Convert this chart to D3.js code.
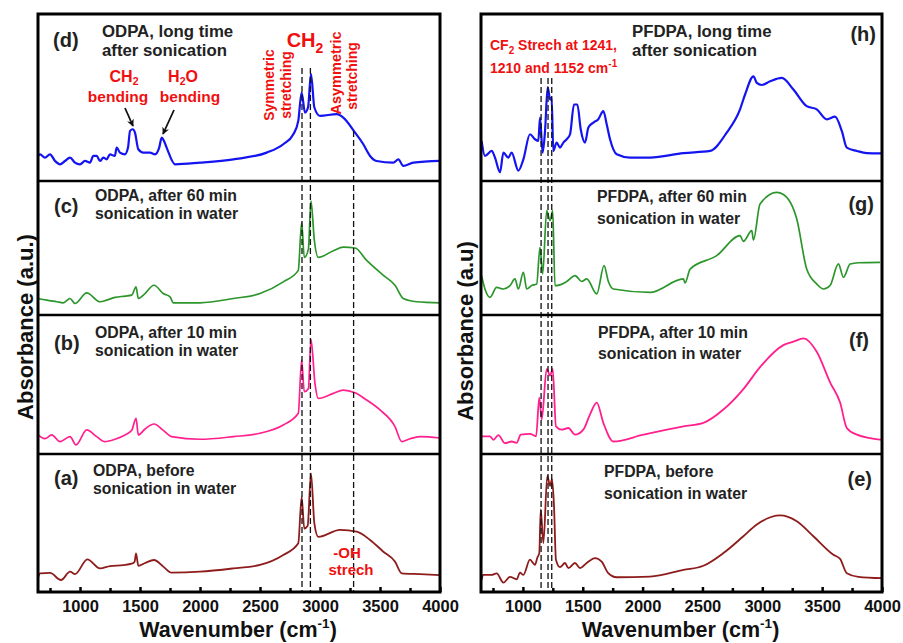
<!DOCTYPE html>
<html>
<head>
<meta charset="utf-8">
<script src="https://cdn.jsdelivr.net/npm/d3@7"></script>
<style>
  body { margin: 0; background: #fff; }
  svg { font-family: "Liberation Sans", Arial, sans-serif; }
  .lbl { font-weight: bold; fill: #222; }
  .red { font-weight: bold; fill: #f01010; }
</style>
</head>
<body>
<svg id="chart" width="903" height="643"></svg>
<script>
// FTIR spectra, values are absorbance in arbitrary units (0-100 per sub-plot)
const majorTicks = [1000, 1500, 2000, 2500, 3000, 3500, 4000];
const minorTicks = [750, 1250, 1750, 2250, 2750, 3250, 3750];

const odpaA = [[650,10],[667,13.5],[750,13.8],[842,8.7],[917,14.7],[960,13],[1061,23.7],[1167,17.1],[1250,18.8],[1360,19.5],[1431,20.5],[1455,22],[1467,28],[1486,19],[1542,21],[1617,23.2],[1694,18.4],[1764,14],[2000,14.7],[2278,17.1],[2500,19.6],[2694,26.8],[2819,35.3],[2847,69],[2869,46],[2897,48],[2925,86],[2953,49.8],[2986,40],[3167,45],[3306,43.7],[3417,37.7],[3528,29.2],[3625,22],[3681,13.5],[3833,13],[4000,12.3]];
const odpaB = [[650,13.7],[708,11],[764,13.7],[833,8.9],[917,12.5],[967,6.5],[1056,17.3],[1139,12.5],[1208,8.9],[1292,10.6],[1375,13.7],[1431,17],[1467,25.7],[1486,13.7],[1542,18],[1617,21.6],[1694,17],[1764,12.5],[2000,10.6],[2278,12.5],[2500,14.9],[2694,20.9],[2819,29.3],[2847,67.6],[2869,44.8],[2903,47],[2925,82.5],[2958,50.8],[2986,40],[3111,43.6],[3194,46],[3292,44],[3389,38.8],[3500,31.7],[3625,19.7],[3681,8.9],[3750,11],[3833,12.5],[4000,11.5]];
const odpaC = [[650,12.3],[722,11.1],[806,9.9],[861,9.1],[917,12.3],[958,8.6],[1056,16.5],[1167,9.9],[1222,11.1],[1292,13.1],[1375,14.1],[1431,14.8],[1467,21],[1486,12.3],[1528,14.8],[1617,22.2],[1694,16],[1750,13.6],[1778,9.1],[2000,9.1],[2278,12.3],[2500,16],[2694,24.7],[2819,33.3],[2847,69],[2869,43],[2903,49],[2925,85],[2953,55.6],[2986,43],[3111,48],[3194,50.6],[3292,50],[3389,40.7],[3528,29.6],[3625,22.2],[3694,12.3],[3806,9.9],[4000,9.1]];
const odpaD = [[650,15],[667,16],[708,14],[750,16],[792,12],[833,10],[875,12],[917,14],[958,11],[1000,10],[1042,12],[1083,11],[1111,15],[1139,15],[1167,12],[1194,14],[1222,13],[1250,16],[1290,15],[1306,20],[1333,17],[1375,16],[1400,20],[1417,30],[1440,31],[1458,29],[1486,19],[1528,17],[1583,17],[1625,16],[1660,20],[1681,26],[1700,24],[1722,20],[1792,10],[2000,11],[2278,13],[2556,17],[2694,22],[2778,28],[2819,36],[2847,53],[2875,41],[2900,44],[2925,64],[2953,44],[3000,39],[3139,40],[3194,38],[3292,29],[3361,22],[3417,15],[3472,12],[3611,11],[3653,13],[3694,9],[3778,11],[4000,12]];

const pfdpaE = [[655,8.8],[667,12.4],[739,12.4],[781,13.5],[837,6.8],[892,11],[948,9.2],[976,14],[1004,12.4],[1059,23.4],[1101,19.7],[1121,25],[1137,28.2],[1149,59.9],[1171,35.5],[1204,84.2],[1227,76.9],[1243,81.8],[1260,62.3],[1276,23.4],[1310,18],[1352,21],[1380,17.3],[1435,21],[1477,17.3],[1533,21],[1603,24.6],[1658,22],[1714,13.6],[1784,10.7],[2062,11.2],[2341,16],[2508,19],[2675,28.2],[2842,40.4],[2954,48.9],[3149,55.5],[3288,51.3],[3427,40.4],[3594,27],[3650,24],[3706,13.6],[3803,11],[4000,10]];
const pfdpaF = [[655,12.7],[725,12.7],[753,10.2],[795,13.6],[850,7.8],[906,9],[948,8],[982,13.9],[1059,14.5],[1110,12.7],[1137,40.6],[1157,24.8],[1199,61.3],[1227,56.4],[1249,61.3],[1276,19.9],[1324,17.5],[1380,18.7],[1435,13.9],[1505,17.5],[1561,28.5],[1617,37],[1672,22.4],[1756,9],[2006,13.9],[2341,19.9],[2508,22.4],[2675,32],[2842,46.7],[2981,62.5],[3176,78.3],[3260,80.8],[3344,83.2],[3455,73.5],[3566,51.6],[3650,37],[3706,18.7],[3790,13.9],[4000,10.2]];
const pfdpaG = [[655,29.4],[683,19.4],[725,13.2],[781,20.6],[837,19.4],[892,21.9],[934,26.9],[962,19.4],[1004,31.9],[1032,19.4],[1073,22],[1115,23.1],[1143,50.5],[1165,30.6],[1199,77.9],[1227,70.4],[1249,77.9],[1268,21.9],[1310,22.5],[1366,25],[1436,29.4],[1491,25],[1533,26.9],[1617,15.7],[1678,36.8],[1714,25],[1756,19.4],[2062,16.9],[2341,26.9],[2355,24],[2397,34.3],[2619,44.3],[2814,59.2],[2842,55],[2912,62.9],[2926,56],[2981,82.8],[3121,91.5],[3176,90],[3288,71.6],[3371,34.3],[3455,23.1],[3511,19.4],[3566,22],[3636,38.1],[3678,28.1],[3734,38.1],[3803,39],[3984,39.3]];
const pfdpaH = [[655,24],[683,15],[739,18],[767,14],[809,5.2],[837,17],[878,14],[906,17],[962,6.2],[1004,13],[1059,28],[1101,25],[1129,24],[1143,37.9],[1165,17],[1185,30],[1207,56.3],[1227,48.8],[1240,50],[1254,18],[1282,23],[1310,20],[1338,23],[1366,25],[1394,28],[1427,45.8],[1455,45.8],[1483,31],[1519,23],[1547,32],[1589,35],[1630,37],[1672,41.9],[1700,34],[1728,25],[1784,16],[1895,14],[2062,14],[2341,16.7],[2564,18],[2703,29],[2814,42.9],[2856,51.8],[2926,62.7],[2954,58.7],[2995,57.5],[3065,59.7],[3163,61.7],[3260,54.8],[3371,44.8],[3455,42.9],[3539,36.9],[3608,38.5],[3664,30],[3706,20],[3790,18],[3873,16.7],[3998,16.5]];

const odpaMarks = [2850, 2920, 3280];
const pfdpaMarks = [1152, 1210, 1241];

const colors = { blue: "#1414f0", green: "#2c962c", pink: "#ff208e", dark: "#8e1c1c" };

const svg = d3.select("#chart");

// sub-plot bands (top, bottom) from top to bottom
const bands = [[14, 181], [181, 315], [315, 454], [454, 592]];

function drawPanel(x0, x1, series, marks, markTop) {
  const x = d3.scaleLinear().domain([650, 4000]).range([x0, x1]);
  const g = svg.append("g");

  series.forEach((s, i) => {
    const y = d3.scaleLinear().domain([0, 100]).range([bands[i][1], bands[i][0]]);
    const line = d3.line().curve(d3.curveMonotoneX).x(d => x(d[0])).y(d => y(d[1]));
    g.append("path")
      .datum(s.data)
      .attr("fill", "none")
      .attr("stroke", s.color)
      .attr("stroke-width", s.width)
      .attr("stroke-linejoin", "round")
      .attr("d", line);
  });

  // dashed reference lines
  marks.forEach((m, i) => {
    g.append("line")
      .attr("x1", x(m)).attr("x2", x(m))
      .attr("y1", markTop[i]).attr("y2", 592)
      .attr("stroke", "#111")
      .attr("stroke-width", 1.3)
      .attr("stroke-dasharray", "6,3");
  });

  // dividers
  bands.slice(1).forEach(b => {
    g.append("line")
      .attr("x1", x0).attr("x2", x1)
      .attr("y1", b[0]).attr("y2", b[0])
      .attr("stroke", "#000").attr("stroke-width", 2.5);
  });

  g.append("rect")
    .attr("x", x0).attr("y", 14)
    .attr("width", x1 - x0).attr("height", 592 - 14)
    .attr("fill", "none").attr("stroke", "#000").attr("stroke-width", 3);

  const ax = g.append("g").attr("transform", "translate(0,592)")
    .call(d3.axisBottom(x).tickValues(majorTicks).tickSize(-5).tickPadding(8).tickFormat(d3.format("d")));
  ax.select(".domain").remove();
  ax.selectAll("line").attr("stroke", "#000").attr("stroke-width", 2.5);
  ax.selectAll("text")
    .attr("font-family", "'Liberation Sans', Arial, sans-serif")
    .attr("font-size", 16.5).attr("font-weight", "bold").attr("fill", "#111");

  const mx = g.append("g").attr("transform", "translate(0,592)")
    .call(d3.axisBottom(x).tickValues(minorTicks).tickSize(-4).tickFormat(""));
  mx.select(".domain").remove();
  mx.selectAll("line").attr("stroke", "#000").attr("stroke-width", 2.5);

  g.append("text")
    .attr("x", (x0 + x1) / 2 - 1).attr("y", 637)
    .attr("text-anchor", "middle")
    .attr("font-size", 21.5).attr("font-weight", "bold").attr("fill", "#111")
    .html('Wavenumber (cm<tspan dy="-9" font-size="13.5">-1</tspan><tspan dy="9">)</tspan>');
  return x;
}

drawPanel(38, 440, [
  { data: odpaD, color: colors.blue, width: 2.2 },
  { data: odpaC, color: colors.green, width: 1.7 },
  { data: odpaB, color: colors.pink, width: 1.7 },
  { data: odpaA, color: colors.dark, width: 1.8 }
], odpaMarks, [68, 68, 131]);

drawPanel(481, 882, [
  { data: pfdpaH, color: colors.blue, width: 2.2 },
  { data: pfdpaG, color: colors.green, width: 1.7 },
  { data: pfdpaF, color: colors.pink, width: 1.8 },
  { data: pfdpaE, color: colors.dark, width: 1.8 }
], pfdpaMarks, [78, 78, 78]);

// y titles
function yTitle(xp, yp, txt) {
  svg.append("text")
    .attr("transform", `translate(${xp},${yp}) rotate(-90)`)
    .attr("text-anchor", "middle")
    .attr("font-size", 22).attr("font-weight", "bold").attr("fill", "#111")
    .text(txt);
}
yTitle(33, 327, "Absorbance (a.u.)");
yTitle(473, 331, "Absorbance (a.u)");

function label(xp, yp, txt, size, anchor) {
  svg.append("text").attr("class", "lbl")
    .attr("x", xp).attr("y", yp)
    .attr("font-size", size)
    .attr("text-anchor", anchor || "start")
    .text(txt);
}

// left panel labels
label(53, 47, "(d)", 20);
label(102, 37, "ODPA, long time", 16.8);
label(102, 56, "after sonication", 16.8);
label(54, 213, "(c)", 20);
label(95, 201, "ODPA, after 60 min", 15.8);
label(95, 219, "sonication in water", 15.8);
label(54, 350, "(b)", 20);
label(95, 338, "ODPA, after 10 min", 15.8);
label(95, 356, "sonication in water", 15.8);
label(54, 485, "(a)", 20);
label(93, 476, "ODPA, before", 15.8);
label(93, 494, "sonication in water", 15.8);

// right panel labels
label(876, 41, "(h)", 20, "end");
label(632, 37, "PFDPA, long time", 16.8);
label(632, 56, "after sonication", 16.8);
label(874, 211, "(g)", 20, "end");
label(597, 202, "PFDPA, after 60 min", 15.8);
label(597, 224, "sonication in water", 15.8);
label(869, 347, "(f)", 20, "end");
label(598, 338, "PFDPA, after 10 min", 15.8);
label(598, 359, "sonication in water", 15.8);
label(872, 486, "(e)", 20, "end");
label(604, 477, "PFDPA, before", 15.8);
label(604, 499, "sonication in water", 15.8);

// red annotations
function red(xp, yp, html, size, anchor) {
  svg.append("text").attr("class", "red")
    .attr("x", xp).attr("y", yp)
    .attr("font-size", size)
    .attr("text-anchor", anchor || "middle")
    .html(html);
}
red(124, 82, 'CH<tspan dy="3" font-size="10.5">2</tspan>', 16);
red(118, 102, "bending", 15.5);
red(183, 82, 'H<tspan dy="3" font-size="10.5">2</tspan><tspan dy="-3">O</tspan>', 16);
red(190, 102, "bending", 15.5);
red(305, 47, 'CH<tspan dy="6" font-size="14">2</tspan>', 20);
red(347, 558, "-OH", 15);
red(351, 575, "strech", 15);
red(490, 50, 'CF<tspan dy="4" font-size="10">2</tspan><tspan dy="-4"> Strech at 1241,</tspan>', 14, "start");
red(490, 73, '1210 and 1152 cm<tspan dy="-6" font-size="10">-1</tspan>', 14, "start");

function redV(xp, yp, txt, size) {
  svg.append("text").attr("class", "red")
    .attr("transform", `translate(${xp},${yp}) rotate(-90)`)
    .attr("text-anchor", "middle")
    .attr("font-size", size)
    .text(txt);
}
redV(274, 85, "Symmetric", 14);
redV(291, 85, "stretching", 14);
redV(341, 73, "Asymmetric", 14.5);
redV(357, 76, "stretching", 14);

// arrows
svg.append("defs").append("marker")
  .attr("id", "ah").attr("viewBox", "0 0 10 10")
  .attr("refX", 9).attr("refY", 5)
  .attr("markerWidth", 4).attr("markerHeight", 4)
  .attr("orient", "auto")
  .append("path").attr("d", "M0,0 L10,5 L0,10 L3,5 Z").attr("fill", "#111");
[[[125, 108], [133, 126]], [[174, 110], [163, 134]]].forEach(a => {
  svg.append("line")
    .attr("x1", a[0][0]).attr("y1", a[0][1])
    .attr("x2", a[1][0]).attr("y2", a[1][1])
    .attr("stroke", "#111").attr("stroke-width", 1.8)
    .attr("marker-end", "url(#ah)");
});
</script>
</body>
</html>
